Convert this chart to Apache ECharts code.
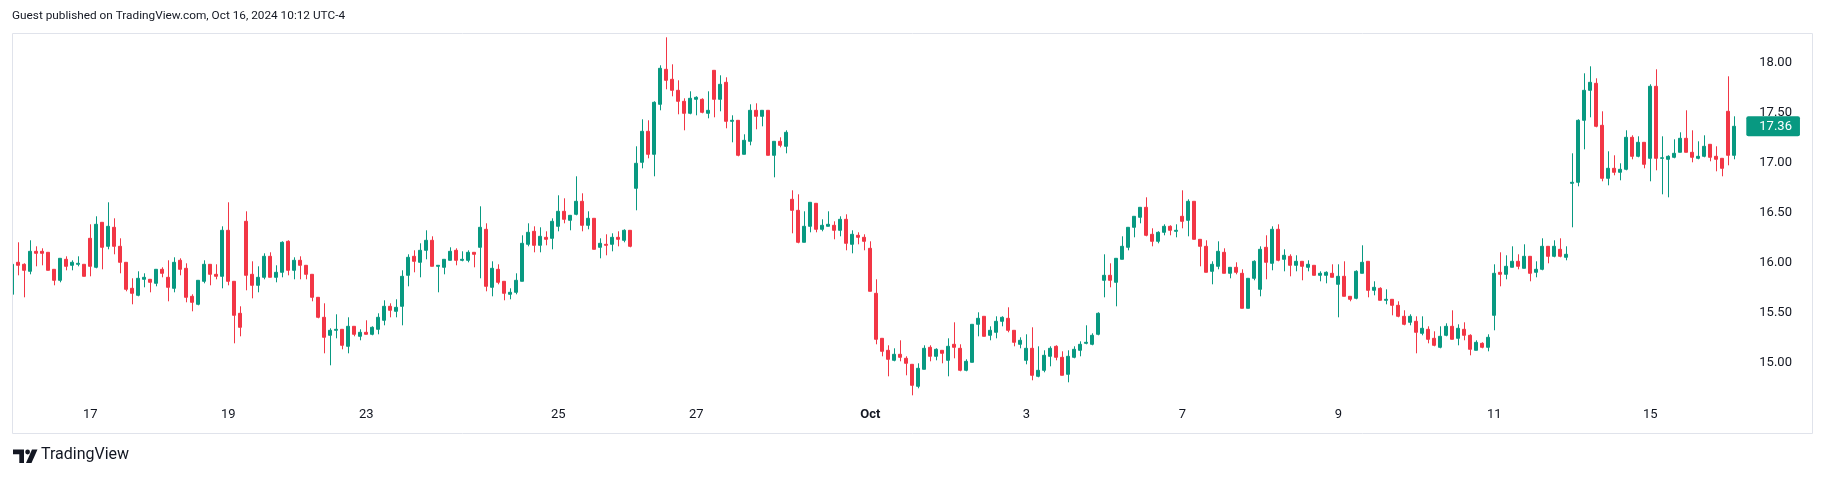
<!DOCTYPE html>
<html>
<head>
<meta charset="utf-8">
<script src="https://cdn.jsdelivr.net/npm/echarts@6/dist/echarts.min.js"></script>
<style>
html,body{margin:0;padding:0;background:#fff;}
#chart{width:1824px;height:478px;}
</style>
</head>
<body>
<div id="chart"></div>
<script>
// Bar index (0-based, into the arrays below) where each labelled day starts, and its tick label
const tickDayStart = [13, 36, 59, 91, 114, 143, 169, 195, 221, 247, 273];
const tickLabels   = ['17', '19', '23', '25', '27', 'Oct', '3', '7', '9', '11', '15'];
const priceTicks = [15.00,15.50,16.00,16.50,17.00,17.50,18.00];

const opens = [15.68,16.00,15.98,15.91,16.11,16.11,16.10,15.93,15.82,16.03,15.97,15.98,15.98,
16.24,15.95,16.40,16.16,16.35,16.16,16.00,15.74,15.67,15.83,15.83,15.79,15.93,
15.85,15.74,16.02,15.94,15.66,15.58,15.81,15.98,15.88,15.86,16.32,15.81,15.49,
16.41,15.88,15.77,15.85,16.06,15.85,15.90,16.21,15.92,16.02,15.97,15.88,15.65,
15.45,15.27,15.32,15.33,15.16,15.36,15.26,15.30,15.28,15.33,15.42,15.56,15.51,
15.56,15.87,16.06,16.00,16.12,16.22,15.96,15.95,16.02,16.12,16.02,16.02,16.10,
16.15,16.33,15.75,15.93,15.81,15.68,15.70,15.81,16.18,16.31,16.17,16.25,16.24,
16.36,16.51,16.42,16.48,16.61,16.37,16.44,16.15,16.18,16.18,16.25,16.22,16.32,
16.74,17.00,17.31,17.08,17.58,17.93,17.83,17.72,17.61,17.49,17.63,17.63,17.49,
17.92,17.63,17.80,17.41,17.42,17.08,17.21,17.52,17.46,17.52,17.07,17.21,17.16,
16.63,16.52,16.20,16.36,16.59,16.33,16.36,16.37,16.32,16.43,16.18,16.27,16.25,
16.14,15.69,15.24,15.12,15.02,15.08,15.04,14.98,14.76,14.93,15.15,15.06,15.12,
15.02,15.18,15.14,14.92,15.00,15.38,15.46,15.27,15.30,15.41,15.44,15.32,15.18,
15.02,15.14,14.86,14.92,15.06,15.16,15.05,14.88,15.05,15.12,15.19,15.18,15.28,
15.82,15.87,15.80,16.03,16.15,16.35,16.45,16.55,16.28,16.21,16.30,16.36,16.31,
16.46,16.42,16.61,16.23,16.16,15.91,15.96,16.10,15.89,15.95,15.89,15.54,15.84,
15.73,16.15,15.99,16.33,16.03,16.06,15.97,16.01,15.95,15.97,15.87,15.87,15.89,
15.78,15.86,15.66,15.64,15.89,16.01,15.72,15.74,15.62,15.63,15.57,15.46,15.40,
15.41,15.29,15.33,15.24,15.15,15.27,15.36,15.24,15.33,15.27,15.12,15.19,15.15,
15.47,15.90,15.88,15.95,16.01,15.94,16.06,15.90,15.93,16.16,16.06,16.13,16.05,
16.79,16.80,17.42,17.72,17.79,17.37,16.84,16.94,16.90,16.93,17.25,17.06,17.20,
17.04,17.76,17.04,17.03,17.05,17.10,17.24,17.10,17.04,17.06,17.18,17.06,17.04,
17.51,17.07];
const closes = [15.98,15.97,15.92,16.11,16.09,16.09,15.92,15.82,16.04,15.96,16.00,15.99,15.86,
15.96,16.38,16.15,16.36,16.16,16.00,15.73,15.69,15.84,15.85,15.80,15.93,15.89,
15.75,16.00,15.93,15.65,15.60,15.82,15.98,15.88,15.86,16.32,15.81,15.47,15.35,
15.87,15.77,15.85,16.06,15.85,15.90,16.20,15.92,16.02,15.97,15.88,15.65,15.45,
15.25,15.32,15.33,15.17,15.36,15.28,15.30,15.28,15.35,15.45,15.56,15.52,15.55,
15.86,16.05,16.01,16.12,16.22,15.96,15.97,16.03,16.11,16.02,16.03,16.10,16.08,
16.35,15.76,15.94,15.80,15.69,15.70,15.82,16.19,16.30,16.17,16.26,16.23,16.41,
16.51,16.43,16.47,16.61,16.37,16.44,16.13,16.19,16.17,16.25,16.23,16.32,16.16,
16.99,17.31,17.08,17.60,17.94,17.82,17.72,17.61,17.49,17.64,17.65,17.50,17.52,
17.63,17.78,17.41,17.42,17.07,17.22,17.52,17.46,17.52,17.07,17.21,17.17,17.30,
16.52,16.20,16.36,16.60,16.33,16.37,16.38,16.32,16.43,16.19,16.28,16.25,16.21,
15.71,15.23,15.11,15.03,15.08,15.05,14.99,14.77,14.94,15.14,15.06,15.13,15.09,
15.16,15.15,14.92,15.01,15.38,15.44,15.26,15.32,15.41,15.45,15.32,15.20,15.22,
15.14,14.87,14.92,15.07,15.14,15.05,14.87,15.06,15.13,15.18,15.20,15.27,15.49,
15.87,15.82,16.04,16.16,16.35,16.46,16.55,16.27,16.21,16.30,16.36,16.32,16.32,
16.41,16.61,16.23,16.16,15.90,15.98,16.11,15.89,15.95,15.90,15.54,15.84,16.01,
16.13,16.00,16.33,16.02,16.07,15.97,16.01,15.96,15.98,15.87,15.89,15.90,15.85,
15.86,15.66,15.63,15.91,16.00,15.72,15.75,15.62,15.63,15.57,15.46,15.38,15.46,
15.30,15.34,15.23,15.17,15.26,15.36,15.23,15.34,15.27,15.13,15.20,15.15,15.25,
15.89,15.88,15.96,16.01,15.96,16.06,15.89,15.93,16.16,16.06,16.16,16.06,16.08,
16.80,17.42,17.72,17.80,17.36,16.84,16.94,16.90,16.93,17.25,17.06,17.20,16.98,
17.76,17.04,17.045,17.06,17.09,17.24,17.10,17.05,17.06,17.16,17.05,17.03,16.94,
17.07,17.36];
const lows = [15.67,15.87,15.65,15.88,15.96,15.97,15.92,15.77,15.80,15.92,15.92,15.96,15.86,
15.86,15.94,15.93,16.13,16.08,15.89,15.71,15.58,15.66,15.75,15.70,15.76,15.85,
15.61,15.70,15.87,15.60,15.51,15.57,15.79,15.77,15.83,15.74,15.77,15.19,15.26,
15.72,15.64,15.70,15.83,15.85,15.80,15.85,15.87,15.83,15.83,15.83,15.61,15.44,
15.09,14.97,15.24,15.13,15.09,15.26,15.22,15.28,15.27,15.28,15.37,15.45,15.45,
15.37,15.76,15.90,15.85,16.03,15.96,15.70,15.88,16.02,15.97,16.01,16.00,15.95,
15.84,15.71,15.66,15.78,15.62,15.63,15.68,15.81,16.16,16.10,16.10,16.17,16.13,
16.31,16.39,16.32,16.47,16.31,16.33,16.13,16.04,16.07,16.11,16.16,16.20,16.15,
16.52,16.94,17.04,16.86,17.52,17.73,17.66,17.48,17.32,17.48,17.47,17.49,17.44,
17.45,17.51,17.34,17.20,17.06,17.08,17.17,17.33,17.36,17.07,16.85,17.15,17.09,
16.29,16.19,16.20,16.30,16.30,16.31,16.36,16.23,16.26,16.12,16.09,16.18,16.12,
15.71,15.18,15.06,14.86,15.01,15.01,14.87,14.67,14.74,14.93,15.01,15.02,14.99,
14.86,15.04,14.91,14.91,15.00,15.26,15.26,15.22,15.24,15.36,15.30,15.16,15.14,
14.98,14.82,14.85,14.90,14.96,15.02,14.87,14.80,15.04,15.06,15.18,15.17,15.27,
15.65,15.75,15.56,16.03,16.12,16.25,16.39,16.26,16.16,16.19,16.27,16.27,16.25,
16.34,16.26,16.23,15.96,15.90,15.78,15.93,15.89,15.84,15.88,15.54,15.54,15.82,
15.66,15.83,15.92,16.01,15.91,15.86,15.91,15.82,15.91,15.87,15.81,15.79,15.85,
15.45,15.66,15.61,15.63,15.89,15.65,15.67,15.62,15.58,15.47,15.45,15.37,15.37,
15.09,15.27,15.19,15.16,15.14,15.26,15.23,15.17,15.22,15.07,15.12,15.14,15.11,
15.32,15.76,15.83,15.95,15.93,15.94,15.81,15.85,15.92,15.99,16.05,16.05,16.02,
16.35,16.76,17.13,17.45,17.35,16.81,16.77,16.87,16.82,16.92,17.03,17.05,16.94,
16.81,16.92,16.68,16.65,17.04,17.10,17.10,17.00,17.03,17.05,17.01,16.91,16.86,
16.97,17.03];
const highs = [15.99,16.20,15.99,16.22,16.16,16.14,16.10,15.93,16.04,16.06,16.02,16.06,15.98,
16.38,16.46,16.40,16.60,16.44,16.24,16.00,15.84,15.91,15.89,15.83,15.93,15.95,
16.02,16.05,16.04,15.99,15.68,15.82,16.02,15.98,15.98,16.36,16.60,15.81,15.56,
16.51,16.01,15.96,16.09,16.10,15.97,16.21,16.22,16.05,16.06,15.97,15.88,15.65,
15.59,15.34,15.48,15.33,15.45,15.36,15.33,15.42,15.36,15.49,15.62,15.59,15.63,
15.92,16.08,16.12,16.19,16.32,16.26,15.97,16.03,16.15,16.14,16.11,16.12,16.10,
16.56,16.39,16.01,15.98,15.81,15.74,15.89,16.27,16.39,16.36,16.35,16.31,16.44,
16.67,16.64,16.47,16.86,16.69,16.51,16.44,16.24,16.28,16.29,16.31,16.33,16.32,
17.16,17.43,17.42,17.61,17.97,18.25,17.98,17.82,17.64,17.71,17.66,17.64,17.71,
17.92,17.87,17.85,17.47,17.42,17.28,17.58,17.59,17.52,17.52,17.21,17.25,17.32,
16.72,16.68,16.51,16.60,16.59,16.43,16.51,16.41,16.46,16.48,16.32,16.30,16.28,
16.21,15.83,15.24,15.17,15.14,15.22,15.06,14.98,14.99,15.17,15.17,15.14,15.12,
15.24,15.40,15.18,15.03,15.38,15.50,15.46,15.36,15.46,15.46,15.55,15.32,15.25,
15.28,15.35,15.16,15.12,15.16,15.17,15.11,15.12,15.16,15.21,15.37,15.29,15.50,
16.08,15.99,16.04,16.26,16.35,16.46,16.55,16.65,16.34,16.31,16.38,16.37,16.38,
16.72,16.63,16.61,16.23,16.22,16.01,16.21,16.14,15.95,16.00,15.93,15.84,16.02,
16.16,16.27,16.36,16.38,16.13,16.08,16.07,16.01,16.02,15.97,15.91,15.91,15.98,
15.98,16.01,15.66,15.92,16.17,16.01,15.81,15.75,15.73,15.63,15.61,15.52,15.48,
15.46,15.46,15.36,15.31,15.36,15.39,15.52,15.38,15.40,15.28,15.22,15.20,15.28,
15.98,16.10,16.07,16.16,16.08,16.18,16.06,16.01,16.24,16.16,16.22,16.24,16.16,
17.09,17.43,17.89,17.96,17.84,17.51,17.11,17.07,16.99,17.32,17.27,17.26,17.20,
17.78,17.93,17.26,17.07,17.23,17.30,17.52,17.32,17.21,17.27,17.18,17.16,17.04,
17.86,17.46];

// categories: one per bar; a labelled bar carries its day label
const categories = opens.map((_, i) => {
  const t = tickDayStart.indexOf(i);
  return t >= 0 ? tickLabels[t] : 'bar' + i;
});
const ohlc = opens.map((o, i) => [o, closes[i], lows[i], highs[i]]);
const lastClose = closes[closes.length - 1];

const upColor = '#089981', downColor = '#F23645';
const textColor = '#131722';
const FONT = 'Roboto, "Noto Sans", sans-serif';

const chart = echarts.init(document.getElementById('chart'), null, {renderer: 'canvas'});
const labelIdx = new Set(tickDayStart);

chart.setOption({
  animation: false,
  backgroundColor: '#ffffff',
  grid: {left: 9.3, width: 1728, top: 12.3, height: 400, containLabel: false},
  xAxis: {
    type: 'category',
    data: categories,
    boundaryGap: true,
    offset: -10,
    axisLine: {show: false},
    axisTick: {show: false},
    splitLine: {show: false},
    axisLabel: {
      interval: (i) => labelIdx.has(i),
      margin: 6,
      color: textColor,
      fontFamily: FONT,
      fontSize: 13,
      formatter: (v) => v.startsWith('bar') ? '' : (/^[A-Za-z]+$/.test(v) ? '{b|' + v + '}' : v),
      rich: {b: {fontWeight: 'bold', fontFamily: FONT, fontSize: 13, color: textColor}}
    }
  },
  yAxis: {
    type: 'value',
    position: 'right',
    min: 14.5,
    max: 18.5,
    interval: 0.5,
    axisLine: {show: false},
    axisTick: {show: false},
    splitLine: {show: false},
    axisLabel: {
      margin: 22,
      align: 'left',
      color: textColor,
      fontFamily: FONT,
      fontSize: 13,
      formatter: (v) => priceTicks.some(p => Math.abs(p - v) < 1e-6) ? v.toFixed(2) : ''
    }
  },
  series: [{
    type: 'candlestick',
    data: ohlc,
    barWidth: 3.4,
    clip: true,
    itemStyle: {
      color: upColor, color0: downColor,
      borderColor: upColor, borderColor0: downColor,
      borderWidth: 1
    },
    markLine: {
      silent: true,
      symbol: 'none',
      z: 10,
      lineStyle: {width: 0, color: 'rgba(0,0,0,0)', type: 'solid'},
      emphasis: {disabled: true},
      data: [{yAxis: lastClose}],
      label: {
        show: true,
        position: 'end',
        distance: 9,
        opacity: 1,
        formatter: lastClose.toFixed(2),
        backgroundColor: upColor,
        color: '#ffffff',
        fontFamily: FONT,
        fontSize: 13,
        padding: [4, 8, 3, 13],
        borderRadius: 2
      }
    }
  }],
  graphic: [
    {type: 'rect', z: 100, shape: {x: 0, y: 30, width: 12, height: 410}, style: {fill: '#ffffff'}},
    {type: 'rect', z: 101, shape: {x: 12.5, y: 33.5, width: 1800, height: 400}, style: {fill: 'none', stroke: '#e0e3eb', lineWidth: 1}},
    {type: 'text', z: 101, left: 12, top: 10, style: {text: 'Guest published on TradingView.com, Oct 16, 2024 10:12 UTC-4', fill: textColor, font: '11.8px ' + FONT}},
    {type: 'polygon', z: 101, shape: {points: [[13,449.5],[24,449.5],[24,463],[19.3,463],[19.3,454.3],[13,454.3]]}, style: {fill: textColor}},
    {type: 'circle', z: 101, shape: {cx: 27.6, cy: 452, r: 2.4}, style: {fill: textColor}},
    {type: 'polygon', z: 101, shape: {points: [[32,449.5],[37.5,449.5],[31.5,463],[26,463]]}, style: {fill: textColor}},
    {type: 'text', z: 101, left: 41, top: 447, style: {text: 'TradingView', fill: textColor, font: '16px ' + FONT}}
  ]
});
</script>
</body>
</html>
